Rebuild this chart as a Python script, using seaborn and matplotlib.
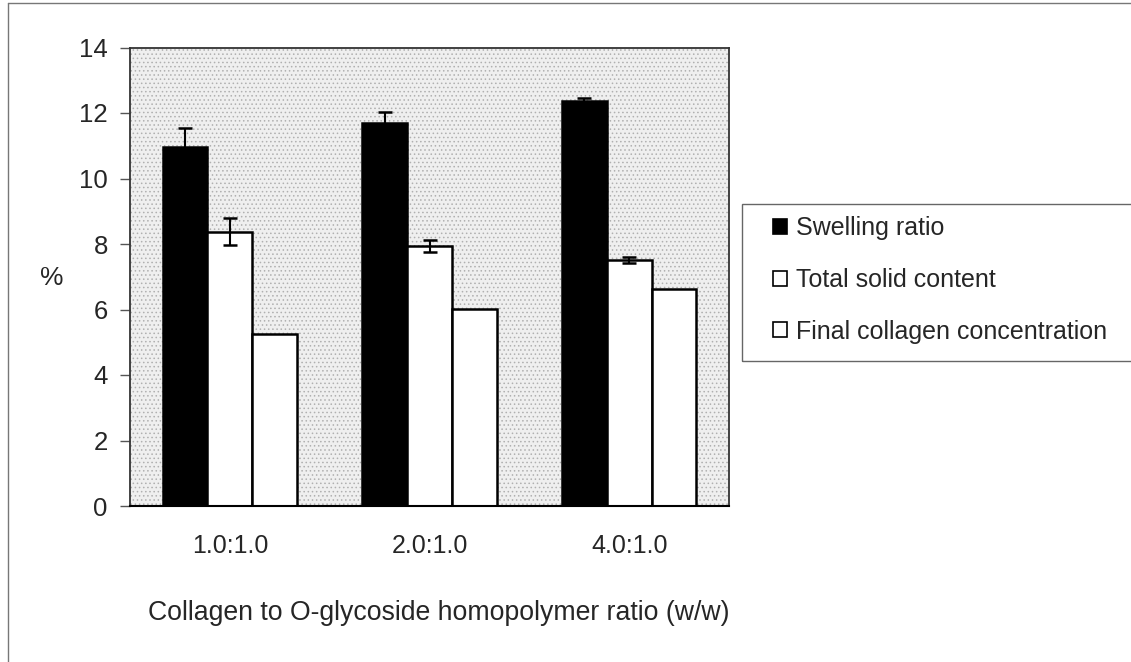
import matplotlib
matplotlib.use("Agg")
import matplotlib.pyplot as plt
from matplotlib.patches import Rectangle, Patch
from matplotlib.lines import Line2D
import numpy as np
import pandas as pd
import seaborn as sns

# Gel composition results per collagen : homopolymer ratio
categories = ["1.0:1.0", "2.0:1.0", "4.0:1.0"]
series_names = ["Swelling ratio", "Total solid content", "Final collagen concentration"]
swelling_ratio = [10.97, 11.70, 12.38]
swelling_err = [0.58, 0.33, 0.09]
total_solid = [8.38, 7.94, 7.51]
total_solid_err = [0.42, 0.17, 0.10]
final_collagen = [5.24, 6.01, 6.62]

y_ticks = [0, 2, 4, 6, 8, 10, 12, 14]
x_label = "Collagen to O-glycoside homopolymer ratio (w/w)"
y_label = "%"

sns.set_theme(style="white")
plt.rcParams["font.family"] = ["Liberation Sans", "DejaVu Sans"]
plt.rcParams["hatch.linewidth"] = 0.6

df = pd.DataFrame({
    "ratio": categories * 3,
    "series": [series_names[0]] * 3 + [series_names[1]] * 3 + [series_names[2]] * 3,
    "value": swelling_ratio + total_solid + final_collagen,
})

W, H = 1131, 662
fig = plt.figure(figsize=(W / 100, H / 100), dpi=100)
fig.patch.set_facecolor("white")
ax = fig.add_axes([130 / W, 1 - 506 / H, 599 / W, 458.5 / H])

# stippled plot-area background
ax.set_facecolor("#efefef")
ax.add_patch(Rectangle((0, 0), 1, 1, transform=ax.transAxes, facecolor="none",
                       edgecolor="#b0b0b0", linewidth=0, hatch="....", zorder=0))

palette = {series_names[0]: "black", series_names[1]: "white", series_names[2]: "white"}
sns.barplot(data=df, x="ratio", y="value", hue="series", hue_order=series_names,
            order=categories, palette=palette, edgecolor="black", linewidth=1.8,
            width=0.672, gap=0, errorbar=None, legend=False, saturation=1, ax=ax, zorder=2)

# error bars at the centres of the drawn bars
bars = [b for b in ax.patches if b.get_width() < 1 and b.get_height() > 0]
bars = sorted(bars, key=lambda b: b.get_x())
centers = [b.get_x() + b.get_width() / 2 for b in bars]
# bars in x order: group k -> swelling, total, final
sw_x = [centers[3 * k] for k in range(3)]
ts_x = [centers[3 * k + 1] for k in range(3)]
ax.errorbar(sw_x, swelling_ratio, yerr=swelling_err, fmt="none", ecolor="black",
            elinewidth=1.5, capsize=5, capthick=1.8, zorder=3)
ax.errorbar(ts_x, total_solid, yerr=total_solid_err, fmt="none", ecolor="black",
            elinewidth=1.5, capsize=5, capthick=1.8, zorder=3)

ax.set_ylim(0, 14)
ax.set_xlim(-0.5, 2.5)
ax.set_yticks(y_ticks)
ax.set_yticklabels([str(t) for t in y_ticks], fontsize=18.5)
ax.set_xticks(range(len(categories)))
ax.set_xticklabels(categories, fontsize=18)
ax.tick_params(axis="y", direction="out", length=7, width=1, color="#555555", pad=9, left=True)
ax.tick_params(axis="x", length=0, pad=20)

for side in ["left", "top", "right"]:
    ax.spines[side].set_color("#333333")
    ax.spines[side].set_linewidth(1.3)
    ax.spines[side].set_visible(True)
ax.spines["bottom"].set_color("black")
ax.spines["bottom"].set_linewidth(1.5)
ax.spines["bottom"].set_visible(True)

ax.set_ylabel(y_label, fontsize=19, rotation=0, va="center", ha="center")
ax.yaxis.set_label_coords((52 - 130) / 599, (506 - 278) / 458.5)
ax.set_xlabel(x_label, fontsize=19.2, va="center", ha="center")
ax.xaxis.set_label_coords((439 - 130) / 599, (506 - 613) / 458.5)

# legend
handles = [Patch(facecolor=palette[s], edgecolor="black", linewidth=1.2) for s in series_names]
leg = ax.legend(handles, series_names, loc="center left", bbox_to_anchor=(773 / W, 1 - 280 / H),
                bbox_transform=fig.transFigure, frameon=False, fontsize=18,
                handlelength=0.56, handleheight=0.56, handletextpad=0.35,
                labelspacing=1.1, borderpad=0, borderaxespad=0)
fig.patches.append(Rectangle((742 / W, 1 - 361 / H), 1.0, 157 / H, transform=fig.transFigure,
                             facecolor="none", edgecolor="#666666", linewidth=1.0, figure=fig))

# outer chart border
fig.lines.append(Line2D([8 / W, 8 / W], [0, 1 - 3 / H], transform=fig.transFigure,
                        color="#777777", linewidth=1.0, figure=fig))
fig.lines.append(Line2D([8 / W, 1], [1 - 3 / H, 1 - 3 / H], transform=fig.transFigure,
                        color="#777777", linewidth=1.0, figure=fig))

fig.savefig("out.png", dpi=100)
